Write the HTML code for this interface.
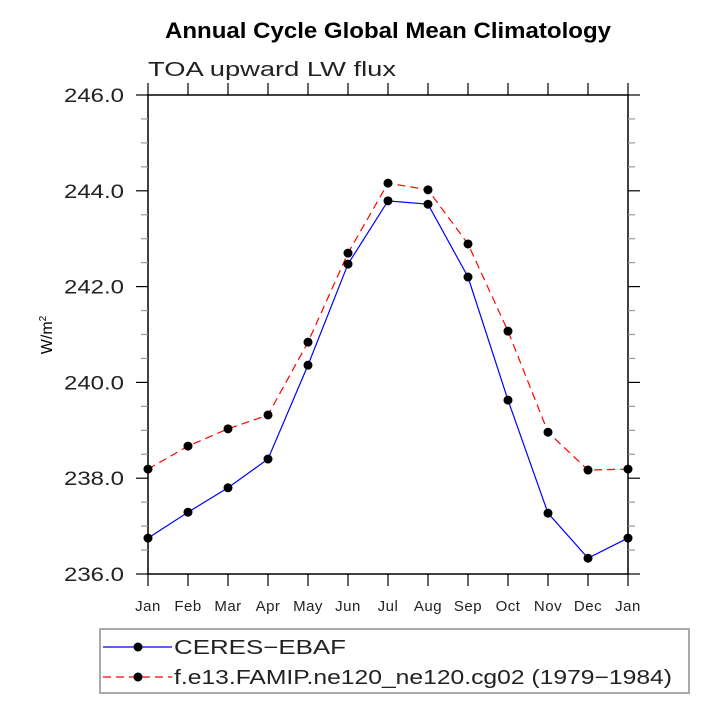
<!DOCTYPE html>
<html><head><meta charset="utf-8"><style>
body{margin:0;background:#fff}
svg text{font-family:"Liberation Sans",sans-serif}
</style></head><body>
<svg id="c" width="713" height="713" viewBox="0 0 713 713">
<text x="165" y="38" font-size="22" font-weight="bold" textLength="446" lengthAdjust="spacingAndGlyphs">Annual Cycle Global Mean Climatology</text>
<text x="148" y="76" font-size="20" fill="#222" textLength="248" lengthAdjust="spacingAndGlyphs">TOA upward LW flux</text>
<text transform="translate(52,335) rotate(-90)" text-anchor="middle" font-size="16">W/m<tspan dy="-6" font-size="10">2</tspan></text>
<g id="axes"></g>
<g id="series"></g>
<rect x="100" y="629" width="589" height="64" fill="none" stroke="#aaa" stroke-width="2"/>
<g>
<line x1="103" y1="647" x2="172" y2="647" stroke="#00f" stroke-width="1.2"/>
<circle cx="138" cy="647" r="4.5" fill="#000"/>
<text x="174" y="654" font-size="20" fill="#222" textLength="172" lengthAdjust="spacingAndGlyphs">CERES−EBAF</text>
</g>
<g>
<line x1="103" y1="677" x2="172" y2="677" stroke="#f00" stroke-width="1.2" stroke-dasharray="8,5"/>
<circle cx="138" cy="677" r="4.5" fill="#000"/>
<text x="174" y="684" font-size="20" fill="#222" textLength="498" lengthAdjust="spacingAndGlyphs">f.e13.FAMIP.ne120_ne120.cg02 (1979−1984)</text>
</g>
</svg>
<script>
const months=["Jan","Feb","Mar","Apr","May","Jun","Jul","Aug","Sep","Oct","Nov","Dec","Jan"];
const ceres=[236.75,237.29,237.8,238.4,240.36,242.47,243.79,243.72,242.2,239.63,237.27,236.33,236.75];
const model=[238.19,238.67,239.03,239.32,240.84,242.7,244.16,244.02,242.89,241.07,238.96,238.17,238.19];
const yTicks=[236,238,240,242,244,246];
const NS="http://www.w3.org/2000/svg";
const X0=148,X1=628,Y0=574,Y1=95,ymin=236,ymax=246;
const xs=i=>X0+i*(X1-X0)/(months.length-1);
const ys=v=>Y0-(v-ymin)/(ymax-ymin)*(Y0-Y1);
function mk(t,a,p){const e=document.createElementNS(NS,t);for(const k in a)e.setAttribute(k,a[k]);p.appendChild(e);return e;}
const ax=document.getElementById('axes');
const fr=mk('rect',{x:X0,y:Y1,width:X1-X0,height:Y0-Y1,fill:'none',stroke:'#000','stroke-width':1.5},ax);


months.forEach((m,i)=>{
 const x=xs(i);
 mk('line',{x1:x,y1:Y0,x2:x,y2:Y0+12,stroke:'#000','stroke-width':1.2},ax);
 mk('line',{x1:x,y1:Y1,x2:x,y2:Y1-12,stroke:'#000','stroke-width':1.2},ax);
 const t=mk('text',{x:x,y:611,'text-anchor':'middle','font-size':15,fill:'#222','letter-spacing':0.5},ax);
 t.textContent=m;
 
 
});
for(let v=ymin;v<=ymax+1e-9;v+=0.5){
 const y=ys(v),maj=Math.abs(v%2)<1e-9;
 const L=maj?12:7,c=maj?'#000':'#999';
 mk('line',{x1:X0-L,y1:y,x2:X0,y2:y,stroke:c,'stroke-width':1.2},ax);
 mk('line',{x1:X1,y1:y,x2:X1+L,y2:y,stroke:c,'stroke-width':1.2},ax);
}
yTicks.forEach(v=>{
 const t=mk('text',{x:64,y:ys(v)+7,'font-size':19,fill:'#222',textLength:60,lengthAdjust:'spacingAndGlyphs'},ax);
 t.textContent=v.toFixed(1);
 
 
});
const sg=document.getElementById('series');
function draw(d,col,dash,name){
 const g=mk('g',{},sg);
 
 
 mk('polyline',{points:d.map((v,i)=>xs(i)+','+ys(v)).join(' '),fill:'none',stroke:col,'stroke-width':1.2,'stroke-dasharray':dash},g);
 d.forEach((v,i)=>{const c=mk('circle',{cx:xs(i),cy:ys(v),r:4.5,fill:'#000'},g);
  
  });
}
draw(model,'#f00','8,5','series-model');
draw(ceres,'#00f','none','series-ceres');
</script>
</body></html>
